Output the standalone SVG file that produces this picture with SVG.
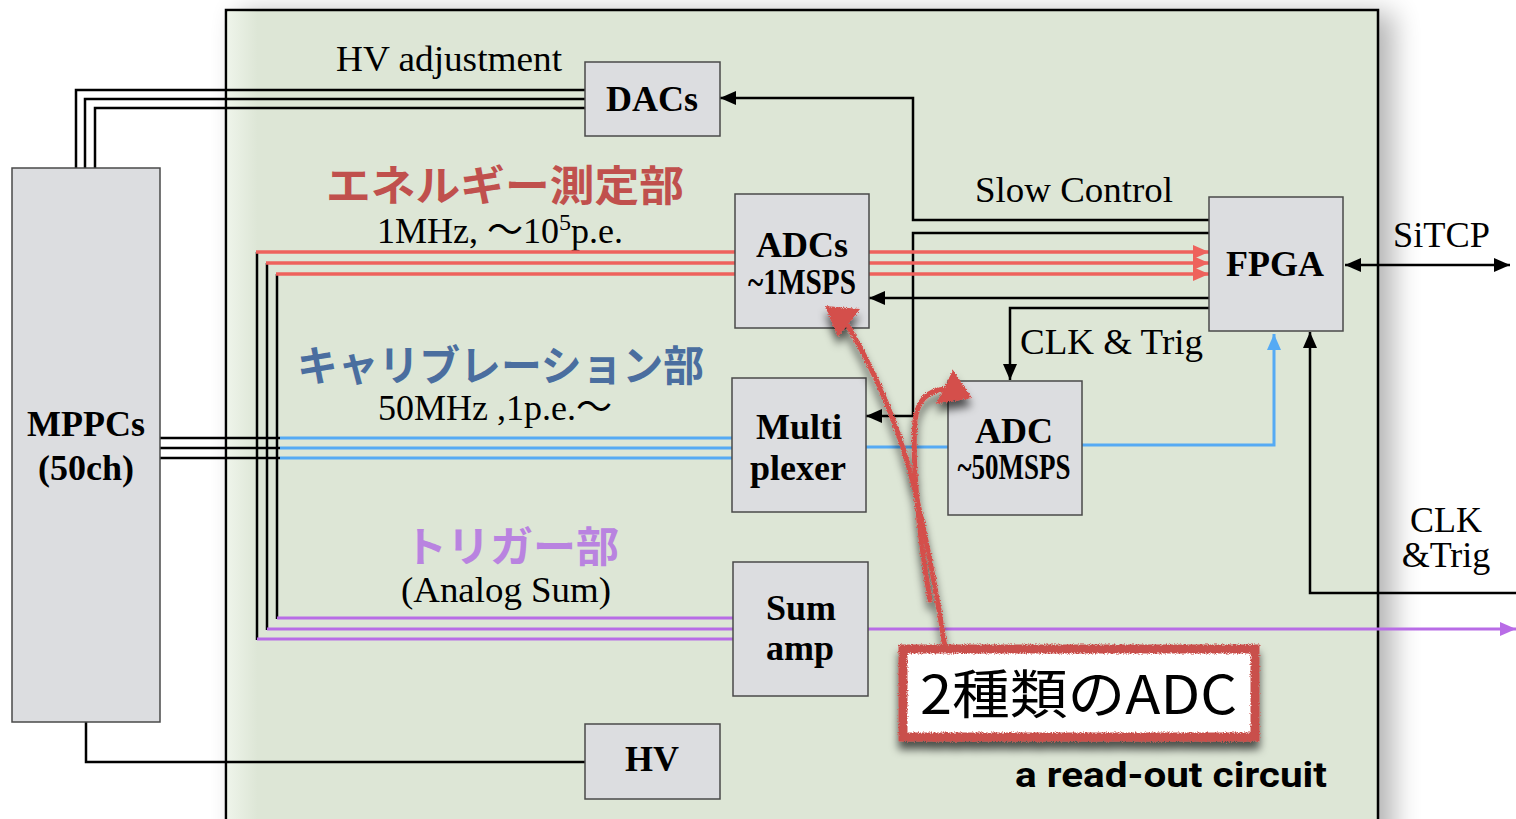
<svg xmlns="http://www.w3.org/2000/svg" width="1516" height="819" viewBox="0 0 1516 819">
<defs>
<style>
.lbl{font-family:"Liberation Serif","Times New Roman","Noto Sans CJK JP",serif;font-size:36px;fill:#000}
.bx{fill:#dcdde0;stroke:#4a4a4a;stroke-width:1.5}
.bt{font-family:"Liberation Serif","Times New Roman",serif;font-size:36px;font-weight:bold;fill:#000;text-anchor:middle}
.jp{font-family:"Noto Sans CJK JP","Noto Sans CJK SC",sans-serif;font-size:42px;font-weight:bold}
.k{fill:none;stroke:#000;stroke-width:2.5}
.r{fill:none;stroke:#ee625c;stroke-width:3.5}
.b{fill:none;stroke:#55aaf4;stroke-width:3}
.p{fill:none;stroke:#b86ce6;stroke-width:3}
.hand{fill:none;stroke:#d44f4b;stroke-width:5;stroke-linecap:round}
</style>
<marker id="ak" viewBox="0 0 16 14" refX="16" refY="7" markerWidth="16" markerHeight="14" markerUnits="userSpaceOnUse" orient="auto-start-reverse"><path d="M0,0 L16,7 L0,14 z" fill="#000"/></marker>
<marker id="ar" viewBox="0 0 16 14" refX="16" refY="7" markerWidth="16" markerHeight="14" markerUnits="userSpaceOnUse" orient="auto"><path d="M0,0 L16,7 L0,14 z" fill="#ee625c"/></marker>
<marker id="ab" viewBox="0 0 16 14" refX="16" refY="7" markerWidth="16" markerHeight="14" markerUnits="userSpaceOnUse" orient="auto"><path d="M0,0 L16,7 L0,14 z" fill="#55aaf4"/></marker>
<marker id="ap" viewBox="0 0 16 14" refX="16" refY="7" markerWidth="16" markerHeight="14" markerUnits="userSpaceOnUse" orient="auto"><path d="M0,0 L16,7 L0,14 z" fill="#b86ce6"/></marker>
<filter id="psh" x="-5%" y="-5%" width="115%" height="115%">
<feGaussianBlur in="SourceAlpha" stdDeviation="14"/>
<feOffset dx="14" dy="4"/>
<feComponentTransfer><feFuncA type="linear" slope="0.3"/></feComponentTransfer>
<feMerge><feMergeNode/><feMergeNode in="SourceGraphic"/></feMerge>
</filter>
<filter id="ann" x="-20%" y="-20%" width="140%" height="160%">
<feTurbulence type="fractalNoise" baseFrequency="0.9" numOctaves="2" seed="3" result="n"/>
<feDisplacementMap in="SourceGraphic" in2="n" scale="4" xChannelSelector="R" yChannelSelector="G" result="d"/>
<feColorMatrix in="d" type="matrix" values="0 0 0 0 0  0 0 0 0 0  0 0 0 0 0  0 0 0 0.65 0" result="a"/>
<feGaussianBlur in="a" stdDeviation="4" result="bl"/>
<feOffset in="bl" dx="0" dy="8" result="o"/>
<feMerge><feMergeNode in="o"/><feMergeNode in="d"/></feMerge>
</filter>
<linearGradient id="lg" x1="0" y1="0" x2="1" y2="0">
<stop offset="0" stop-color="#eef4ea" stop-opacity="1"/>
<stop offset="1" stop-color="#eef4ea" stop-opacity="0"/>
</linearGradient>
</defs>

<rect width="1516" height="819" fill="#fff"/>

<g id="panel">
<rect x="226" y="10" width="1152" height="840" fill="#dde6d6" stroke="#000" stroke-width="2.5" filter="url(#psh)"/>
<rect x="227.5" y="11.5" width="30" height="837" fill="url(#lg)"/>
</g>

<g id="labels">
<text class="lbl" x="336" y="71" textLength="226" lengthAdjust="spacingAndGlyphs">HV adjustment</text>
<text class="jp" x="326" y="201" fill="#c0504d" textLength="358" lengthAdjust="spacingAndGlyphs">エネルギー測定部</text>
<text class="lbl" x="377" y="243">1MHz, 〜10<tspan font-size="24" dy="-13">5</tspan><tspan dy="13">p.e.</tspan></text>
<text class="jp" x="297" y="381" fill="#4a6e9f" textLength="407" lengthAdjust="spacingAndGlyphs">キャリブレーション部</text>
<text class="lbl" x="378" y="420">50MHz ,1p.e.〜</text>
<text class="jp" x="404" y="562" fill="#b983e0" textLength="215" lengthAdjust="spacingAndGlyphs">トリガー部</text>
<text class="lbl" x="401" y="602" textLength="210" lengthAdjust="spacingAndGlyphs">(Analog Sum)</text>
<text class="lbl" x="975" y="202" textLength="198" lengthAdjust="spacingAndGlyphs">Slow Control</text>
<text class="lbl" x="1020" y="354" textLength="183" lengthAdjust="spacingAndGlyphs">CLK &amp; Trig</text>
<text class="lbl" x="1393" y="247" textLength="97" lengthAdjust="spacingAndGlyphs">SiTCP</text>
<text class="lbl" x="1446" y="532" text-anchor="middle">CLK</text>
<text class="lbl" x="1446" y="567" text-anchor="middle">&amp;Trig</text>
<text x="1015" y="787" font-family="Roboto,'Liberation Sans',sans-serif" font-weight="bold" font-size="35" textLength="312" lengthAdjust="spacingAndGlyphs">a read-out circuit</text>
</g>

<g id="connectors">
<polyline class="k" points="585,90 76,90 76,168"/>
<polyline class="k" points="585,99 85,99 85,168"/>
<polyline class="k" points="585,108 95,108 95,168"/>
<polyline class="k" points="1209,220 913,220 913,98 720,98" marker-end="url(#ak)"/>
<polyline class="k" points="1209,233 913,233 913,416 866,416" marker-end="url(#ak)"/>
<line class="k" x1="1209" y1="298" x2="869" y2="298" marker-end="url(#ak)"/>
<polyline class="k" points="1209,308 1010,308 1010,380" marker-end="url(#ak)"/>
<line class="k" x1="1345" y1="265" x2="1510" y2="265" marker-start="url(#ak)" marker-end="url(#ak)"/>
<polyline class="k" points="1516,593 1310,593 1310,332" marker-end="url(#ak)"/>
<polyline class="k" points="86,722 86,762 585,762"/>
<line class="k" x1="160" y1="438" x2="280" y2="438"/>
<line class="k" x1="160" y1="448" x2="280" y2="448"/>
<line class="k" x1="160" y1="458" x2="280" y2="458"/>
<line class="k" x1="257" y1="252" x2="257" y2="640"/>
<line class="k" x1="267" y1="263" x2="267" y2="630"/>
<line class="k" x1="277" y1="274" x2="277" y2="619"/>
<line class="r" x1="256" y1="252" x2="735" y2="252"/>
<line class="r" x1="266" y1="263" x2="735" y2="263"/>
<line class="r" x1="276" y1="274" x2="735" y2="274"/>
<line class="r" x1="869" y1="252" x2="1209" y2="252" marker-end="url(#ar)"/>
<line class="r" x1="869" y1="263" x2="1209" y2="263" marker-end="url(#ar)"/>
<line class="r" x1="869" y1="274" x2="1209" y2="274" marker-end="url(#ar)"/>
<line class="b" x1="280" y1="438" x2="732" y2="438"/>
<line class="b" x1="280" y1="448" x2="732" y2="448"/>
<line class="b" x1="280" y1="458" x2="732" y2="458"/>
<line class="b" x1="866" y1="447" x2="948" y2="447"/>
<polyline class="b" points="1082,445 1274,445 1274,334" marker-end="url(#ab)"/>
<line class="p" x1="277" y1="618" x2="733" y2="618"/>
<line class="p" x1="267" y1="629" x2="733" y2="629"/>
<line class="p" x1="257" y1="639" x2="733" y2="639"/>
<line class="p" x1="868" y1="629" x2="1516" y2="629" marker-end="url(#ap)"/>
</g>

<g id="mppcs">
<rect class="bx" x="12" y="168" width="148" height="554"/>
<text class="bt" x="86" y="436">MPPCs</text>
<text class="bt" x="86" y="480">(50ch)</text>
</g>
<g id="dacs">
<rect class="bx" x="585" y="62" width="135" height="74"/>
<text class="bt" x="652" y="111" font-size="38">DACs</text>
</g>
<g id="adcs">
<rect class="bx" x="735" y="194" width="134" height="134"/>
<text class="bt" x="802" y="257">ADCs</text>
<text class="bt" x="802" y="294" font-size="28" textLength="108" lengthAdjust="spacingAndGlyphs">~1MSPS</text>
</g>
<g id="fpga">
<rect class="bx" x="1209" y="197" width="134" height="134"/>
<text class="bt" x="1275" y="276" font-size="38">FPGA</text>
</g>
<g id="multiplexer">
<rect class="bx" x="732" y="378" width="134" height="134"/>
<text class="bt" x="799" y="439" font-size="44" textLength="86" lengthAdjust="spacingAndGlyphs">Multi</text>
<text class="bt" x="798" y="480" font-size="44" textLength="96" lengthAdjust="spacingAndGlyphs">plexer</text>
</g>
<g id="adc">
<rect class="bx" x="948" y="381" width="134" height="134"/>
<text class="bt" x="1014" y="443">ADC</text>
<text class="bt" x="1014" y="479" font-size="27" textLength="113" lengthAdjust="spacingAndGlyphs">~50MSPS</text>
</g>
<g id="sumamp">
<rect class="bx" x="733" y="562" width="135" height="134"/>
<text class="bt" x="801" y="620" font-size="37">Sum</text>
<text class="bt" x="800" y="660" font-size="37">amp</text>
</g>
<g id="hv">
<rect class="bx" x="585" y="724" width="135" height="75"/>
<text class="bt" x="652" y="771" font-size="37">HV</text>
</g>

<g id="annotation">
<g filter="url(#ann)">
<path class="hand" d="M945,648 C938,600 925,530 913,483 S880,380 848,326"/>
<polygon points="825,306 860,309 838,337" fill="#d44f4b"/>
<path class="hand" d="M930,600 C918,530 912,460 915,420 C918,398 930,390 945,389"/>
<polygon points="953,370 936,404 972,398" fill="#d44f4b"/>
<rect x="903" y="649" width="352" height="88" fill="#fff" stroke="#c9504c" stroke-width="9"/>
</g>
<text x="920" y="714" font-family="'Noto Sans CJK JP','Noto Sans CJK SC',sans-serif" font-size="53" textLength="317" lengthAdjust="spacingAndGlyphs">2種類のADC</text>
</g>
</svg>
